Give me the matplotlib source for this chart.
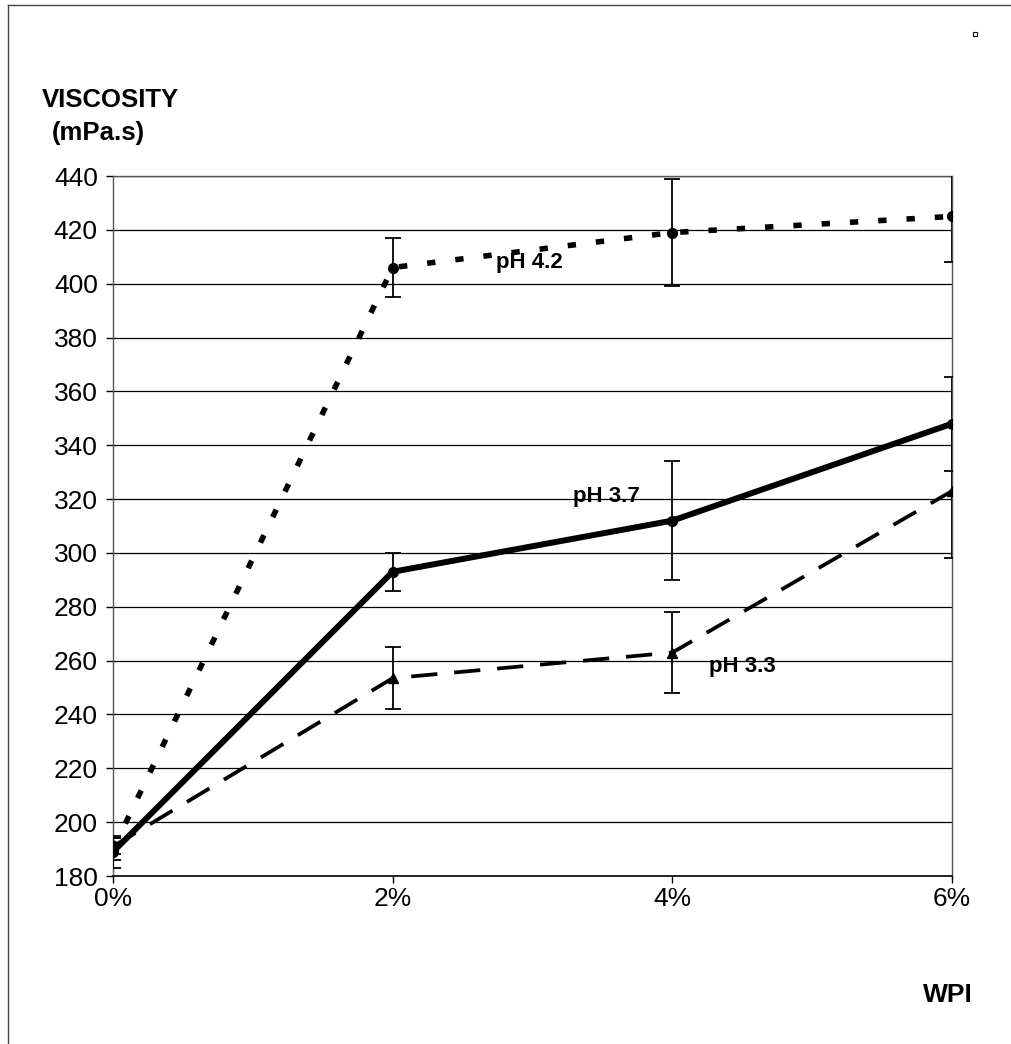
import matplotlib
matplotlib.use("Agg")
import matplotlib.pyplot as plt
from matplotlib.lines import Line2D
from matplotlib.patches import Rectangle

plt.rcParams['font.family'] = ['Liberation Sans', 'DejaVu Sans']

# WPI concentration (%) and viscosity (mPa.s) with standard deviations
wpi = [0, 2, 4, 6]
wpi_labels = ["0%", "2%", "4%", "6%"]

visc_ph42 = [190, 406, 419, 425]
err_ph42 = [4, 11, 20, 17]

visc_ph37 = [189, 293, 312, 348]
err_ph37 = [6, 7, 22, 17.5]

visc_ph33 = [191, 253.5, 263, 323]
err_ph33 = [3, 11.5, 15, 25]

y_ticks = list(range(180, 441, 20))

fig = plt.figure(figsize=(10.12, 10.44), dpi=100)
ax = fig.add_axes([0.1117, 0.1609, 0.829, 0.6705])

# horizontal gridlines
for yv in y_ticks:
    ax.axhline(yv, color="black", lw=0.9, zorder=1)

ebkw = dict(ecolor="black", elinewidth=1.3, capsize=6, capthick=1.3, zorder=3)

ax.errorbar(wpi, visc_ph42, yerr=err_ph42, fmt="none", **ebkw)
ax.plot(wpi, visc_ph42, color="black", lw=4, linestyle=(0, (1.5, 3.6)),
        marker="o", markersize=7, zorder=4)

ax.errorbar(wpi, visc_ph37, yerr=err_ph37, fmt="none", **ebkw)
ax.plot(wpi, visc_ph37, color="black", lw=4.3, linestyle="-",
        marker="o", markersize=7, zorder=4)

ax.errorbar(wpi, visc_ph33, yerr=err_ph33, fmt="none", **ebkw)
ax.plot(wpi, visc_ph33, color="black", lw=2.7, linestyle=(0, (7, 4.5)),
        marker="^", markersize=7, zorder=4)

# series labels
lbl = dict(fontsize=16, fontweight="bold", ha="center", va="center")
ax.text(2.98, 408, "pH 4.2", **lbl)
ax.text(3.53, 320.8, "pH 3.7", **lbl)
ax.text(4.50, 258, "pH 3.3", **lbl)

ax.set_xlim(0, 6)
ax.set_ylim(180, 440)
ax.set_xticks(wpi)
ax.set_xticklabels(wpi_labels)
ax.set_yticks(y_ticks)
ax.tick_params(axis="both", labelsize=19, length=5, width=1, direction="out")
ax.tick_params(axis="x", pad=3)
ax.tick_params(axis="y", pad=6)

for side in ["top", "right", "left"]:
    ax.spines[side].set_linestyle((0, (2, 1)))
    ax.spines[side].set_color("#555555")
    ax.spines[side].set_linewidth(1)
ax.spines["bottom"].set_linewidth(1.2)

# axis titles
fig.text(0.041, 0.904, "VISCOSITY", fontsize=18.5, fontweight="bold", ha="left", va="center")
fig.text(0.051, 0.873, "(mPa.s)", fontsize=18.5, fontweight="bold", ha="left", va="center")
fig.text(0.937, 0.047, "WPI", fontsize=19, fontweight="bold", ha="center", va="center")

# outer frame and small marker square
fig.add_artist(Line2D([0.008, 0.008], [0.0, 0.995], transform=fig.transFigure,
                      color="#444444", lw=1))
fig.add_artist(Line2D([0.008, 1.0], [0.995, 0.995], transform=fig.transFigure,
                      color="#444444", lw=1))
fig.add_artist(Rectangle((0.9615, 0.9655), 0.004, 0.004, transform=fig.transFigure,
                         fill=False, edgecolor="black", lw=0.8))

fig.savefig("out.png", dpi=100)
